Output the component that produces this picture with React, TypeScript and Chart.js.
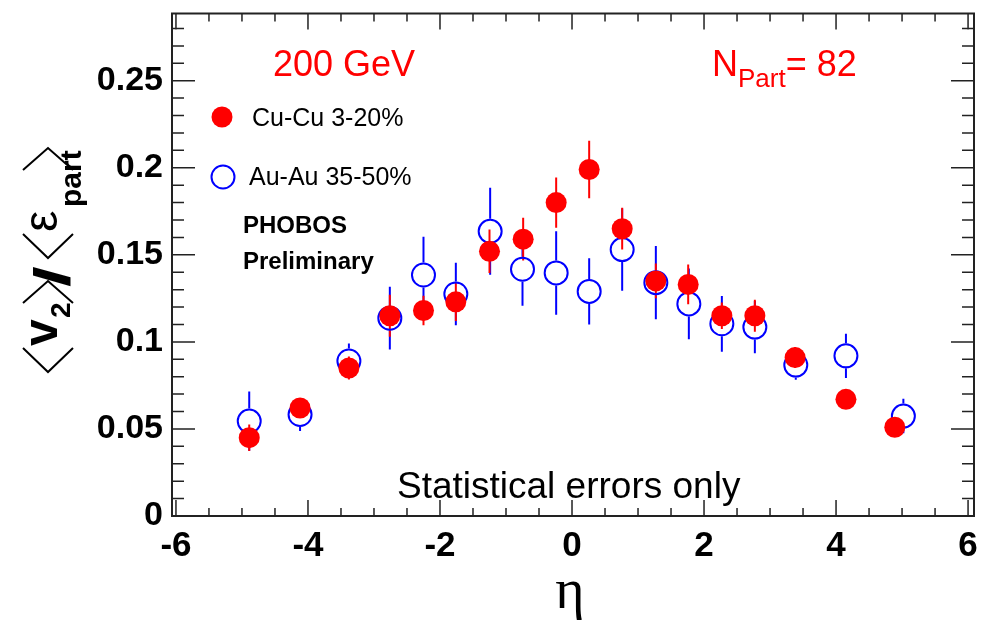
import React, { useEffect, useRef } from "react";
import { Chart, registerables } from "chart.js";

Chart.register(...registerables);

// Cu-Cu 3-20% (filled red)
const cuEta = [-4.89, -4.12, -3.38, -2.76, -2.25, -1.76, -1.25, -0.74, -0.24, 0.26, 0.76, 1.27, 1.76, 2.27, 2.77, 3.38, 4.15, 4.89];
const cuV2 = [0.045, 0.062, 0.085, 0.115, 0.118, 0.123, 0.152, 0.159, 0.18, 0.199, 0.165, 0.135, 0.133, 0.115, 0.115, 0.091, 0.067, 0.051];
const cuErr = [0.0076, 0.005, 0.0066, 0.012, 0.0085, 0.011, 0.0125, 0.0123, 0.0144, 0.0165, 0.012, 0.01, 0.0114, 0.0076, 0.0092, 0.006, 0.004, 0.004];

// Au-Au 35-50% (open blue)
const auEta = [-4.89, -4.12, -3.38, -2.76, -2.25, -1.76, -1.24, -0.75, -0.24, 0.26, 0.76, 1.27, 1.77, 2.27, 2.77, 3.39, 4.15, 5.02];
const auV2 = [0.0545, 0.0583, 0.089, 0.1136, 0.1384, 0.1275, 0.1635, 0.1417, 0.1396, 0.129, 0.153, 0.134, 0.1218, 0.1104, 0.1085, 0.0867, 0.092, 0.0574];
const auErr = [0.017, 0.0095, 0.01, 0.018, 0.022, 0.018, 0.025, 0.021, 0.024, 0.019, 0.0236, 0.021, 0.0203, 0.016, 0.015, 0.0085, 0.0127, 0.0099];

// Axis ticks
const xTickValues = [-6, -4, -2, 0, 2, 4, 6];
const xTickLabels = ["-6", "-4", "-2", "0", "2", "4", "6"];
const yTickValues = [0, 0.05, 0.1, 0.15, 0.2, 0.25];
const yTickLabels = ["0", "0.05", "0.1", "0.15", "0.2", "0.25"];

const CU_LABEL = "Cu-Cu 3-20%";
const AU_LABEL = "Au-Au 35-50%";

const CU_COLOR = "#ff0000";
const AU_COLOR = "#0000ff";
const SANS = '"Liberation Sans", Arial, Helvetica, sans-serif';
const SERIF = '"Liberation Serif", "Times New Roman", serif';

const CU_RADIUS = 10.5;
const AU_RADIUS = 11.5;

function drawCuMarker(ctx: CanvasRenderingContext2D, x: number, y: number) {
  ctx.beginPath();
  ctx.arc(x, y, CU_RADIUS, 0, Math.PI * 2);
  ctx.fillStyle = CU_COLOR;
  ctx.fill();
}

function drawAuMarker(ctx: CanvasRenderingContext2D, x: number, y: number) {
  ctx.beginPath();
  ctx.arc(x, y, AU_RADIUS, 0, Math.PI * 2);
  ctx.strokeStyle = AU_COLOR;
  ctx.lineWidth = 2;
  ctx.stroke();
}

// vertical error bars, kept outside of the marker outline
const errorBars = {
  id: "errorBars",
  beforeDatasetsDraw(chart: any) {
    const { ctx, chartArea, scales } = chart;
    const xs = scales.x;
    const ys = scales.y;
    const series = [
      { eta: auEta, v: auV2, err: auErr, color: AU_COLOR, gap: AU_RADIUS + 1 },
      { eta: cuEta, v: cuV2, err: cuErr, color: CU_COLOR, gap: 0 },
    ];
    ctx.save();
    ctx.beginPath();
    ctx.rect(chartArea.left, chartArea.top, chartArea.right - chartArea.left, chartArea.bottom - chartArea.top);
    ctx.clip();
    ctx.lineWidth = 2;
    for (const s of series) {
      ctx.strokeStyle = s.color;
      for (let i = 0; i < s.eta.length; i++) {
        const px = xs.getPixelForValue(s.eta[i]);
        const yc = ys.getPixelForValue(s.v[i]);
        const yHi = ys.getPixelForValue(s.v[i] + s.err[i]);
        const yLo = ys.getPixelForValue(s.v[i] - s.err[i]);
        ctx.beginPath();
        if (yc - yHi > s.gap) {
          ctx.moveTo(px, yc - s.gap);
          ctx.lineTo(px, yHi);
        }
        if (yLo - yc > s.gap) {
          ctx.moveTo(px, yc + s.gap);
          ctx.lineTo(px, yLo);
        }
        ctx.stroke();
      }
    }
    ctx.restore();
  },
};

function chevron(ctx: CanvasRenderingContext2D, a: number, w: number, open: boolean) {
  // drawn in the rotated title frame; open=true is the left angle bracket
  const top = -34;
  const bot = 16;
  const mid = (top + bot) / 2;
  ctx.beginPath();
  if (open) {
    ctx.moveTo(a + w, top);
    ctx.lineTo(a, mid);
    ctx.lineTo(a + w, bot);
  } else {
    ctx.moveTo(a, top);
    ctx.lineTo(a + w, mid);
    ctx.lineTo(a, bot);
  }
  ctx.stroke();
}

function drawYTitle(ctx: CanvasRenderingContext2D) {
  ctx.save();
  ctx.translate(57, 373);
  ctx.rotate(-Math.PI / 2);
  ctx.fillStyle = "#000";
  ctx.strokeStyle = "#000";
  ctx.lineWidth = 2;
  ctx.textAlign = "left";
  ctx.textBaseline = "alphabetic";

  chevron(ctx, 1, 24, true);
  ctx.font = `bold 48px ${SANS}`;
  ctx.fillText("v", 27, 0);
  ctx.font = `bold 28px ${SANS}`;
  ctx.fillText("2", 55, 13);
  chevron(ctx, 70, 22, false);

  ctx.save();
  ctx.translate(86, 12);
  ctx.scale(1.5, 1);
  ctx.font = `bold 50px ${SANS}`;
  ctx.fillText("/", 0, 0);
  ctx.restore();

  chevron(ctx, 115, 24, true);
  ctx.font = `48px ${SANS}`;
  ctx.fillText("\u03b5", 141, 0);
  ctx.font = `bold 30px ${SANS}`;
  ctx.fillText("part", 166, 24);
  chevron(ctx, 203, 22, false);
  ctx.restore();
}

const frameAndText = {
  id: "frameAndText",
  afterDraw(chart: any) {
    const { ctx, chartArea, scales } = chart;
    const xs = scales.x;
    const ys = scales.y;
    const { left, right, top, bottom } = chartArea;

    ctx.save();
    // frame
    ctx.strokeStyle = "#222";
    ctx.lineWidth = 2;
    ctx.strokeRect(left, top, right - left, bottom - top);

    // ticks on all four sides, pointing inward
    ctx.lineWidth = 1.5;
    ctx.beginPath();
    for (let k = -12; k <= 12; k++) {
      const v = k * 0.5;
      const px = xs.getPixelForValue(v);
      const len = k % 4 === 0 ? 16 : 8;
      ctx.moveTo(px, bottom);
      ctx.lineTo(px, bottom - len);
      ctx.moveTo(px, top);
      ctx.lineTo(px, top + len);
    }
    for (let k = 0; k <= 28; k++) {
      const v = k * 0.01;
      const py = ys.getPixelForValue(v);
      const len = k % 5 === 0 ? 23 : 12;
      ctx.moveTo(left, py);
      ctx.lineTo(left + len, py);
      ctx.moveTo(right, py);
      ctx.lineTo(right - len, py);
    }
    ctx.stroke();

    // tick labels
    ctx.fillStyle = "#000";
    ctx.font = `bold 35px ${SANS}`;
    ctx.textAlign = "center";
    ctx.textBaseline = "alphabetic";
    xTickValues.forEach((v, i) => {
      ctx.fillText(xTickLabels[i], xs.getPixelForValue(v), 556);
    });
    ctx.font = `bold 34px ${SANS}`;
    ctx.textAlign = "right";
    ctx.textBaseline = "middle";
    yTickValues.forEach((v, i) => {
      ctx.fillText(yTickLabels[i], 163, ys.getPixelForValue(v));
    });

    // axis titles
    ctx.textAlign = "center";
    ctx.textBaseline = "alphabetic";
    ctx.font = `56px ${SERIF}`;
    ctx.fillText("\u03b7", 570, 608);
    drawYTitle(ctx);

    // annotations
    ctx.textAlign = "left";
    ctx.fillStyle = CU_COLOR;
    ctx.font = `36px ${SANS}`;
    ctx.fillText("200 GeV", 273, 76);
    ctx.fillText("N", 712, 76);
    const nW = ctx.measureText("N").width;
    ctx.font = `26px ${SANS}`;
    ctx.fillText("Part", 712 + nW, 87);
    const pW = ctx.measureText("Part").width;
    ctx.font = `36px ${SANS}`;
    ctx.fillText("= 82", 712 + nW + pW, 76);

    ctx.fillStyle = "#000";
    ctx.font = `bold 24px ${SANS}`;
    ctx.fillText("PHOBOS", 243, 233);
    ctx.fillText("Preliminary", 243, 269);
    ctx.font = `37px ${SANS}`;
    ctx.fillText("Statistical errors only", 397, 498);

    // legend
    drawCuMarker(ctx, 222, 117);
    drawAuMarker(ctx, 223, 177);
    ctx.fillStyle = "#000";
    ctx.font = `25px ${SANS}`;
    ctx.textBaseline = "alphabetic";
    ctx.fillText(CU_LABEL, 252, 126);
    ctx.fillText(AU_LABEL, 249, 185);
    ctx.restore();
  },
};

export default function App() {
  const canvasRef = useRef<HTMLCanvasElement | null>(null);

  useEffect(() => {
    const canvas = canvasRef.current;
    if (!canvas) return;
    const chart = new Chart(canvas, {
      type: "scatter",
      data: {
        datasets: [
          {
            label: CU_LABEL,
            data: cuEta.map((x, i) => ({ x, y: cuV2[i] })),
            pointStyle: "circle",
            pointRadius: CU_RADIUS,
            backgroundColor: CU_COLOR,
            borderColor: CU_COLOR,
            borderWidth: 0,
            showLine: false,
          },
          {
            label: AU_LABEL,
            data: auEta.map((x, i) => ({ x, y: auV2[i] })),
            pointStyle: "circle",
            pointRadius: AU_RADIUS,
            backgroundColor: "rgba(0,0,0,0)",
            borderColor: AU_COLOR,
            borderWidth: 2,
            showLine: false,
          },
        ],
      },
      options: {
        animation: false,
        responsive: false,
        maintainAspectRatio: false,
        devicePixelRatio: 1,
        layout: { padding: { left: 172, top: 8, right: 18, bottom: 107 } },
        scales: {
          x: { type: "linear", min: -6.06, max: 6.09, display: false },
          y: { type: "linear", min: 0, max: 0.2886, display: false },
        },
        plugins: {
          legend: { display: false },
          tooltip: { enabled: false },
        },
      },
      plugins: [errorBars, frameAndText],
    });
    return () => chart.destroy();
  }, []);

  return (
    <div style={{ position: "absolute", left: 0, top: 0, width: 992, height: 623, background: "#fff" }}>
      <canvas ref={canvasRef} width={992} height={623} style={{ width: 992, height: 623, display: "block" }} />
    </div>
  );
}
